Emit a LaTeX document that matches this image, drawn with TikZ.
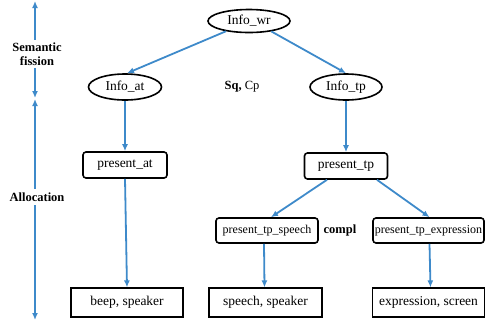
\documentclass[tikz,border=0pt]{standalone}
\usepackage{fontspec}
\setmainfont{Liberation Serif}
\newfontfamily\lserif{Liberation Serif}
\usetikzlibrary{shapes.geometric,arrows.meta}
\definecolor{axisblue}{RGB}{62,138,202}
\tikzset{
  lbl/.style={font=\lserif\fontsize{13.5}{16}\selectfont},
  sml/.style={font=\lserif\fontsize{12}{14}\selectfont},
  bld/.style={font=\lserif\fontsize{12.5}{14}\selectfont\bfseries, align=center},
  ell/.style={ellipse, draw=black, line width=1.6pt, inner sep=0pt, lbl},
  rbox/.style={rectangle, rounded corners=3pt, draw=black, line width=1.6pt, inner sep=0pt, minimum height=26pt},
  sbox/.style={rectangle, draw=black, line width=1.2pt, inner sep=0pt, minimum width=112pt, minimum height=29pt, lbl},
  arr/.style={draw=axisblue, line width=1.8pt, -{Latex[length=7pt,width=6pt]}},
  axarr/.style={draw=axisblue, line width=2pt, {Latex[length=7pt,width=6pt]}-{Latex[length=7pt,width=6pt]}}
}
\begin{document}
\begin{tikzpicture}[x=1pt,y=-1pt]
\useasboundingbox (0,0) rectangle (485,325);
% left axis
\coordinate (a1) at (35,1);
\coordinate (a2) at (35,98);
\coordinate (a3) at (35,99);
\coordinate (a4) at (35,320);
\draw[axarr] (a2) -- (a1);
\draw[axarr] (a3) -- (a4);
\node[bld, fill=white, inner sep=3pt] (sf) at (37,54) {Semantic\\fission};
\node[bld, fill=white, inner sep=4pt] (al) at (37,197) {Allocation};
% nodes
\node[ell, minimum width=82pt, minimum height=23pt] (wr) at (249,21) {Info\_wr};
\node[ell, minimum width=73pt, minimum height=26pt] (iat) at (125,87) {Info\_at};
\node[ell, minimum width=72pt, minimum height=26pt] (itp) at (346,87) {Info\_tp};
\node[font=\lserif\fontsize{12.5}{14}\selectfont] (sq) at (242,87) {\textbf{Sq,} Cp};
\node[rbox, lbl, minimum width=84pt] (pat) at (125,165) {present\_at};
\node[rbox, lbl, minimum width=83pt] (ptp) at (346,166) {present\_tp};
\node[rbox, sml, minimum width=102pt, minimum height=25pt] (psp) at (267,230.5) {present\_tp\_speech};
\node[bld] (cp) at (340,230) {compl};
\node[rbox, sml, minimum width=111pt, minimum height=25pt] (pex) at (428.5,230.5) {present\_tp\_expression};
\node[sbox] (b1) at (127,302.5) {beep, speaker};
\node[sbox, minimum width=113pt] (b2) at (265.5,302.5) {speech, speaker};
\node[sbox] (b3) at (428.5,302.5) {expression, screen};
% connectors
\draw[arr] (wr.204) -- ([xshift=2pt]iat.north);
\draw[arr] (wr.-25) -- (itp.north);
\draw[arr] (iat.south) -- (pat.north);
\draw[arr] (pat.south) -- (b1.north);
\draw[arr] (itp.south) -- (ptp.north);
\draw[arr] ([xshift=-19pt]ptp.south) -- ([xshift=4pt]psp.north);
\draw[arr] ([xshift=31pt]ptp.south) -- ([xshift=1pt]pex.north);
\draw[arr] ([xshift=-3pt]psp.south) -- ([xshift=-1pt]b2.north);
\draw[arr] ([xshift=1pt]pex.south) -- ([xshift=2pt]b3.north);
\end{tikzpicture}
\end{document}
